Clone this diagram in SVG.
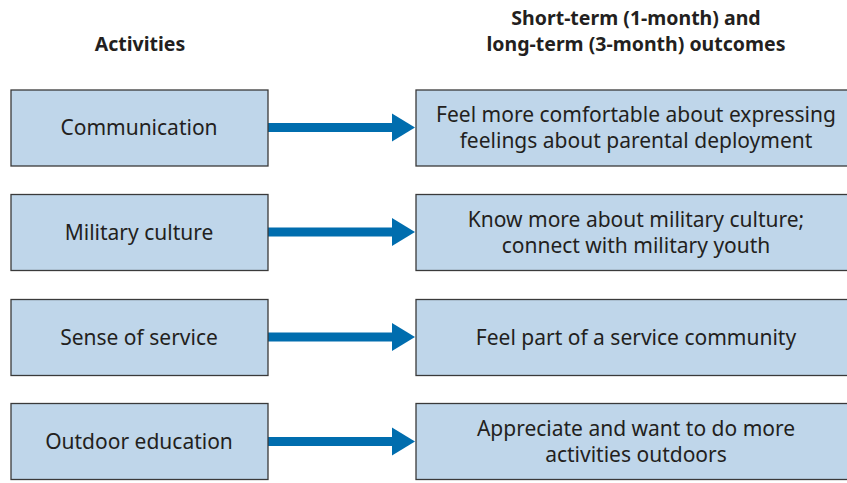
<svg xmlns="http://www.w3.org/2000/svg" width="847" height="483" viewBox="0 0 847 483">
<style>
.box{fill:#bfd6ea;stroke:#3a3a3a;stroke-width:1.3}
.t{font-family:"Noto Sans","Liberation Sans",sans-serif;font-size:21px;fill:#231f20;text-anchor:middle}
.h{font-family:"Noto Sans","Liberation Sans",sans-serif;font-size:19.5px;font-weight:bold;fill:#231f20;text-anchor:middle}
.shaft{fill:#006dae}
</style>
<defs>
<g id="arrow"><rect class="shaft" x="268" y="-4.5" width="126" height="9"/><polygon class="shaft" points="392,-14 415,0 392,14"/></g>
</defs>
<g id="headers">
<text class="h" x="140" y="51">Activities</text>
<text class="h" x="636" y="25">Short-term (1-month) and</text>
<text class="h" x="636" y="51">long-term (3-month) outcomes</text>
</g>
<g id="connectors">
<use href="#arrow" y="127.5"/>
<use href="#arrow" y="232"/>
<use href="#arrow" y="337"/>
<use href="#arrow" y="441.5"/>
</g>
<g id="a1"><rect class="box" x="11" y="90" width="257" height="76"/><text class="t" x="139" y="135">Communication</text></g>
<g id="a2"><rect class="box" x="11" y="194.5" width="257" height="76"/><text class="t" x="139" y="239.5">Military culture</text></g>
<g id="a3"><rect class="box" x="11" y="299.5" width="257" height="76"/><text class="t" x="139" y="344.5">Sense of service</text></g>
<g id="a4"><rect class="box" x="11" y="403.5" width="257" height="76"/><text class="t" x="139" y="448.5">Outdoor education</text></g>
<g id="o1"><rect class="box" x="416" y="90" width="440" height="76"/><text class="t" x="636" y="122">Feel more comfortable about expressing</text><text class="t" x="636" y="148">feelings about parental deployment</text></g>
<g id="o2"><rect class="box" x="416" y="194.5" width="440" height="76"/><text class="t" x="636" y="226.5">Know more about military culture;</text><text class="t" x="636" y="252.5">connect with military youth</text></g>
<g id="o3"><rect class="box" x="416" y="299.5" width="440" height="76"/><text class="t" x="636" y="344.5">Feel part of a service community</text></g>
<g id="o4"><rect class="box" x="416" y="403.5" width="440" height="76"/><text class="t" x="636" y="435.5">Appreciate and want to do more</text><text class="t" x="636" y="461.5">activities outdoors</text></g>
</svg>
